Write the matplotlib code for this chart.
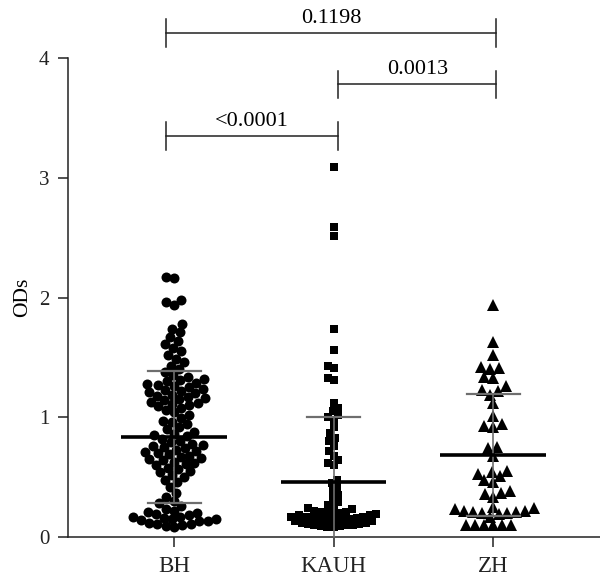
"""Scatter dot plot of ODs for three hospitals (BH, KAUH, ZH) with mean and SD bars."""

import matplotlib
matplotlib.use("Agg")
import matplotlib.pyplot as plt
import numpy as np

plt.rcParams["font.family"] = ["Liberation Serif", "DejaVu Serif"]

GROUPS = ["BH", "KAUH", "ZH"]

BH_ODS = [
    2.17, 2.16, 1.98, 1.96, 1.94, 1.78, 1.74, 1.71, 1.67, 1.64, 1.61, 1.58,
    1.55, 1.52, 1.49, 1.46, 1.43, 1.40, 1.38,
    1.35, 1.34, 1.32, 1.31, 1.30, 1.29, 1.28, 1.27, 1.26, 1.25, 1.24, 1.23,
    1.22, 1.21, 1.20, 1.19, 1.18, 1.17, 1.16, 1.15, 1.14, 1.13, 1.12, 1.11,
    1.10, 1.09, 1.08, 1.06, 1.04, 1.02,
    0.99, 0.97, 0.96, 0.94, 0.92, 0.90, 0.88, 0.86, 0.85, 0.84, 0.82, 0.80,
    0.79, 0.78, 0.77, 0.76, 0.75, 0.74, 0.73, 0.72, 0.71, 0.70, 0.69, 0.68,
    0.67, 0.66, 0.65, 0.64, 0.63, 0.62, 0.61, 0.60, 0.58, 0.57, 0.55, 0.54,
    0.52, 0.50, 0.48, 0.46,
    0.42, 0.37, 0.33, 0.30, 0.28, 0.26,
    0.23, 0.22, 0.21, 0.20, 0.19, 0.18, 0.17, 0.17, 0.16, 0.15, 0.15, 0.14,
    0.13, 0.13, 0.12, 0.11, 0.11, 0.10, 0.09, 0.08,
]

KAUH_ODS = [
    3.09, 2.59, 2.51, 1.74, 1.56, 1.43, 1.41, 1.33, 1.31,
    1.12, 1.08, 1.05, 1.02, 1.00, 0.98, 0.92, 0.87, 0.83, 0.80, 0.76, 0.72,
    0.68, 0.64, 0.62, 0.60, 0.48, 0.45, 0.42, 0.38, 0.35, 0.32, 0.29, 0.27,
    0.25, 0.24, 0.23, 0.22, 0.21, 0.21, 0.20, 0.20, 0.19, 0.19,
    0.18, 0.18, 0.17, 0.17, 0.17, 0.16, 0.16, 0.15, 0.15, 0.15,
    0.14, 0.14, 0.13, 0.13, 0.13, 0.12, 0.12, 0.11, 0.11,
    0.10, 0.10, 0.10, 0.09, 0.09, 0.08, 0.08,
]

ZH_ODS = [
    1.94, 1.63, 1.52, 1.42, 1.41, 1.40, 1.34, 1.33, 1.26, 1.23, 1.22, 1.19,
    1.12, 1.01, 0.94, 0.93, 0.92, 0.75, 0.74, 0.68, 0.55, 0.54, 0.53, 0.51,
    0.48, 0.46, 0.38, 0.37, 0.36, 0.33,
    0.25, 0.24, 0.23, 0.22, 0.22, 0.21, 0.21, 0.20, 0.20, 0.19, 0.17,
    0.10, 0.10, 0.10, 0.10, 0.10, 0.10,
]

MEANS = [0.835, 0.46, 0.685]
SDS = [0.55, 0.54, 0.51]

# (left group, right group, label)
COMPARISONS = [
    (0, 1, "<0.0001"),
    (1, 2, "0.0013"),
    (0, 2, "0.1198"),
]
BRACKET_Y = [3.35, 3.78, 4.21]

MARKERS = ["o", "s", "^"]
MARKER_SIZES = [7.2, 6.2, 8.2]
SWARM_DIAM_PX = [8.6, 6.5, 9.0]


def swarm_offsets(ys_px, diam):
    """Greedy beeswarm in pixel space, returns horizontal pixel offsets."""
    ys_px = np.asarray(ys_px, dtype=float)
    order = np.argsort(ys_px)
    placed = []
    out = np.zeros(len(ys_px))
    for i in order:
        y = ys_px[i]
        near = [(px, py) for px, py in placed if abs(py - y) < diam]
        cands = [0.0]
        for px, py in near:
            dx = np.sqrt(diam ** 2 - (py - y) ** 2)
            cands += [px - dx, px + dx]
        cands.sort(key=abs)
        best = 0.0
        for c in cands:
            if all((c - px) ** 2 + (y - py) ** 2 >= diam ** 2 - 1e-6 for px, py in near):
                best = c
                break
        out[i] = best
        placed.append((best, y))
    return out


fig = plt.figure(figsize=(6.0, 5.83), dpi=100)
ax = fig.add_axes([0.1125, 0.0789, 0.8875, 0.8216])
ax.set_xlim(0.332, 3.67)
ax.set_ylim(0, 4)

positions = np.arange(1, len(GROUPS) + 1)
series = [BH_ODS, KAUH_ODS, ZH_ODS]

for k, vals in enumerate(series):
    vals = np.asarray(vals)
    pts = ax.transData.transform(np.column_stack([np.full(len(vals), positions[k]), vals]))
    offs = swarm_offsets(pts[:, 1], SWARM_DIAM_PX[k])
    pts[:, 0] += offs
    data = ax.transData.inverted().transform(pts)
    ax.plot(data[:, 0], data[:, 1], linestyle="none", marker=MARKERS[k],
            markersize=MARKER_SIZES[k], color="black", markeredgewidth=0, zorder=2)

    m, s = MEANS[k], SDS[k]
    x = positions[k]
    lo = max(m - s, 0)
    ax.plot([x, x], [lo, m + s], color="#6e6e6e", lw=1.2, zorder=3, clip_on=False)
    ax.plot([x - 0.166, x + 0.166], [m + s, m + s], color="#6e6e6e", lw=1.6, zorder=3)
    if m - s > 0:
        ax.plot([x - 0.166, x + 0.166], [m - s, m - s], color="#6e6e6e", lw=1.6, zorder=3)
    ax.plot([x - 0.33, x + 0.33], [m, m], color="black", lw=2.6, zorder=4,
            solid_capstyle="butt")

# significance brackets
bracket_x = {0: 0.95, 1: 2.03, 2: 3.02}
for (a, b, label), yb in zip(COMPARISONS, BRACKET_Y):
    x1, x2 = bracket_x[a], bracket_x[b]
    ax.plot([x1, x2], [yb, yb], color="#222222", lw=1.1, clip_on=False)
    ax.plot([x1, x1], [yb - 0.115, yb + 0.115], color="#222222", lw=1.1, clip_on=False)
    ax.plot([x2, x2], [yb - 0.115, yb + 0.115], color="#222222", lw=1.1, clip_on=False)
    ax.text((x1 + x2) / 2, yb + 0.085, label, ha="center", va="baseline",
            fontsize=16, clip_on=False)

ax.set_xticks(positions)
ax.set_xticklabels(GROUPS, fontsize=16.5)
ax.set_yticks([0, 1, 2, 3, 4])
ax.set_yticklabels(["0", "1", "2", "3", "4"], fontsize=15)
ax.set_ylabel("ODs", fontsize=15.5, labelpad=5)

for side in ("top", "right"):
    ax.spines[side].set_visible(False)
for side in ("left", "bottom"):
    ax.spines[side].set_linewidth(1.1)
    ax.spines[side].set_color("#222222")
ax.tick_params(axis="y", direction="out", length=7, width=1.1, pad=6, colors="#222222")
ax.tick_params(axis="x", direction="out", length=7, width=1.1, pad=7, colors="#222222")

fig.savefig("out.png", dpi=100)
